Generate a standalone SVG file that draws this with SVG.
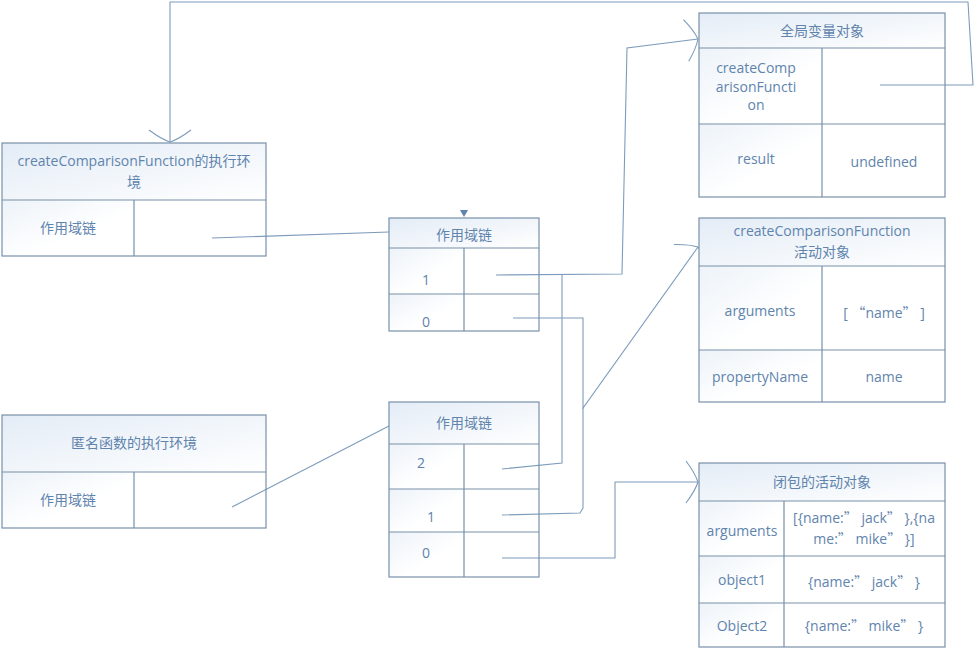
<svg xmlns="http://www.w3.org/2000/svg" width="975" height="649" viewBox="0 0 975 649">
<style>
.box{fill:none;stroke:#7890a8;stroke-width:1.2}
.hdr{fill:url(#hg)}
.cell{fill:url(#cg)}
.div{stroke:#7890a8;stroke-width:1.2;fill:none}
text{font-family:"Open Sans","Noto Sans CJK SC",sans-serif;font-size:14px;fill:#5f84ad;text-anchor:middle}
.q{font-family:"Noto Sans CJK SC",sans-serif}
.c{fill:none;stroke:#7d9cbb;stroke-width:1.1}
</style>
<defs>
<linearGradient id="hg" x1="0" y1="0" x2="1" y2="1">
<stop offset="0" stop-color="#e3ecf6"/><stop offset="1" stop-color="#ffffff"/>
</linearGradient>
<linearGradient id="cg" x1="0" y1="0" x2="1" y2="1">
<stop offset="0" stop-color="#edf3f9"/><stop offset="0.6" stop-color="#ffffff"/>
</linearGradient>
<marker id="ah" markerUnits="userSpaceOnUse" viewBox="-20 -24 24 48" refX="0" refY="0" markerWidth="24" markerHeight="48" orient="auto" overflow="visible">
<path d="M-12,-21 Q-3,-9 0,0 Q-3,9 -12,21" fill="none" stroke="#7d9cbb" stroke-width="1.1"/>
</marker>
</defs>
<rect width="975" height="649" fill="#ffffff"/>

<g id="connectors">
<path class="c" d="M880,85 L973,85 L968,2 L170,2 L170,142" marker-end="url(#ah)"/>
<path class="c" d="M212,238 L389,232"/>
<path class="c" d="M232,507 L389,426"/>
<path class="c" d="M496,275 L622,274 L627,48 L698,39" marker-end="url(#ah)"/>
<path class="c" d="M502,469 L562,463 L562,275"/>
<path class="c" d="M513,318 L583,318 L583,408 L698,247" marker-end="url(#ah)"/>
<path class="c" d="M502,515 L580,513 L583,508 L583,408"/>
<path class="c" d="M502,558 L615,558 L615,482 L698,482" marker-end="url(#ah)"/>
<polygon points="460,210 468,210 464,217" fill="#5f84ad"/>
</g>

<g id="cmp-env">
<rect class="hdr" x="2" y="143" width="264" height="57"/>
<rect class="cell" x="2" y="200" width="132" height="56"/>
<rect class="box" x="2" y="143" width="264" height="113"/>
<path class="div" d="M2,200 H266 M134,200 V256"/>
<text x="134" y="166">createComparisonFunction的执行环</text>
<text x="134" y="187">境</text>
<text x="68" y="233">作用域链</text>
</g>

<g id="anon-env">
<rect class="hdr" x="2" y="415" width="264" height="57"/>
<rect class="cell" x="2" y="472" width="132" height="56"/>
<rect class="box" x="2" y="415" width="264" height="113"/>
<path class="div" d="M2,472 H266 M134,472 V528"/>
<text x="134" y="448">匿名函数的执行环境</text>
<text x="68" y="505">作用域链</text>
</g>

<g id="scope1">
<rect class="hdr" x="389" y="218" width="150" height="30"/>
<rect class="cell" x="389" y="248" width="75" height="46"/>
<rect class="cell" x="389" y="294" width="75" height="37"/>
<rect class="box" x="389" y="218" width="150" height="113"/>
<path class="div" d="M389,248 H539 M389,294 H539 M464,248 V331"/>
<text x="464" y="240">作用域链</text>
<text x="426" y="285">1</text>
<text x="426" y="327">0</text>
</g>

<g id="scope2">
<rect class="hdr" x="389" y="402" width="150" height="42"/>
<rect class="cell" x="389" y="444" width="75" height="45"/>
<rect class="cell" x="389" y="489" width="75" height="43"/>
<rect class="cell" x="389" y="532" width="75" height="45"/>
<rect class="box" x="389" y="402" width="150" height="175"/>
<path class="div" d="M389,444 H539 M389,489 H539 M389,532 H539 M464,444 V577"/>
<text x="464" y="428">作用域链</text>
<text x="421" y="468">2</text>
<text x="431" y="522">1</text>
<text x="426" y="558">0</text>
</g>

<g id="global-vo">
<rect class="hdr" x="699" y="13" width="246" height="35"/>
<rect class="cell" x="699" y="48" width="123" height="76"/>
<rect class="cell" x="699" y="124" width="123" height="73"/>
<rect class="box" x="699" y="13" width="246" height="184"/>
<path class="div" d="M699,48 H945 M699,124 H945 M822,48 V197"/>
<text x="822" y="36">全局变量对象</text>
<text x="756" y="73">createComp</text>
<text x="756" y="92">arisonFuncti</text>
<text x="756" y="110">on</text>
<text x="756" y="164">result</text>
<text x="884" y="167">undefined</text>
</g>

<g id="cmp-ao">
<rect class="hdr" x="699" y="218" width="246" height="48"/>
<rect class="cell" x="699" y="266" width="123" height="84"/>
<rect class="cell" x="699" y="350" width="123" height="52"/>
<rect class="box" x="699" y="218" width="246" height="184"/>
<path class="div" d="M699,266 H945 M699,350 H945 M822,266 V402"/>
<text x="822" y="236">createComparisonFunction</text>
<text x="822" y="257">活动对象</text>
<text x="760" y="316">arguments</text>
<text x="884" y="318">[ <tspan class="q">“</tspan>name<tspan class="q">”</tspan> ]</text>
<text x="760" y="382">propertyName</text>
<text x="884" y="382">name</text>
</g>

<g id="closure-ao">
<rect class="hdr" x="699" y="463" width="246" height="38"/>
<rect class="cell" x="699" y="501" width="85" height="55"/>
<rect class="cell" x="699" y="556" width="85" height="47"/>
<rect class="cell" x="699" y="603" width="85" height="44"/>
<rect class="box" x="699" y="463" width="246" height="184"/>
<path class="div" d="M699,501 H945 M699,556 H945 M699,603 H945 M784,501 V647"/>
<text x="822" y="487">闭包的活动对象</text>
<text x="742" y="536">arguments</text>
<text x="864" y="523">[{name:<tspan class="q">”</tspan> jack<tspan class="q">”</tspan> },{na</text>
<text x="864" y="544">me:<tspan class="q">”</tspan> mike<tspan class="q">”</tspan> }]</text>
<text x="742" y="585">object1</text>
<text x="864" y="587">{name:<tspan class="q">”</tspan> jack<tspan class="q">”</tspan> }</text>
<text x="742" y="631">Object2</text>
<text x="864" y="631">{name:<tspan class="q">”</tspan> mike<tspan class="q">”</tspan> }</text>
</g>
</svg>
